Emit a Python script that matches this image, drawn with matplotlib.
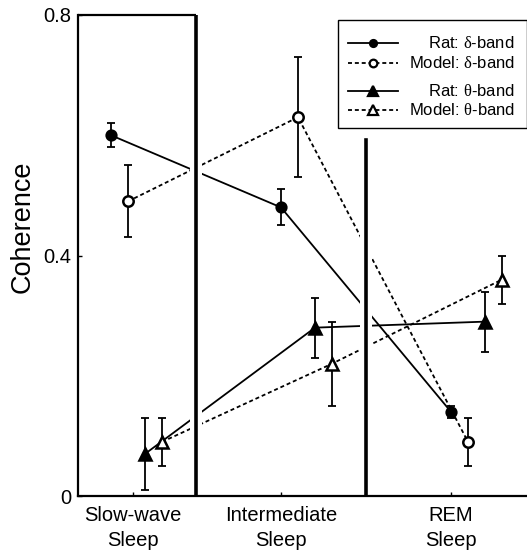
import matplotlib
matplotlib.use("Agg")
import matplotlib.pyplot as plt
from matplotlib.lines import Line2D
from matplotlib.patches import Rectangle

plt.rcParams['font.family'] = ['Liberation Sans', 'DejaVu Sans']
plt.rcParams['mathtext.fontset'] = 'custom'
plt.rcParams['mathtext.rm'] = 'Liberation Serif'

# data
stages = ["Slow-wave\nSleep", "Intermediate\nSleep", "REM\nSleep"]

rat_delta = [0.60, 0.48, 0.14]
rat_delta_err = [0.02, 0.03, 0.01]
model_delta = [0.49, 0.63, 0.09]
model_delta_err = [0.06, 0.10, 0.04]
rat_theta = [0.07, 0.28, 0.29]
rat_theta_err = [0.06, 0.05, 0.05]
model_theta = [0.09, 0.22, 0.36]
model_theta_err = [0.04, 0.07, 0.04]

labels = [r"Rat: $\mathrm{\delta}$-band", r"Model: $\mathrm{\delta}$-band",
          r"Rat: $\mathrm{\theta}$-band", r"Model: $\mathrm{\theta}$-band"]

# layout
group_x = [0, 1, 2]
offsets = [0.0, 0.1, 0.2, 0.3]
tick_pos = [0.13, 1.0, 2.0]
dividers = [0.5, 1.5]

DASH = (2.2, 1.6)
series = [
    (rat_delta, rat_delta_err, "o", "k", "-", 7),
    (model_delta, model_delta_err, "o", "white", "--", 7.5),
    (rat_theta, rat_theta_err, "^", "k", "-", 9),
    (model_theta, model_theta_err, "^", "white", "--", 9),
]

fig = plt.figure(figsize=(5.27, 5.5), dpi=100)
ax = fig.add_axes([78 / 527, 54 / 550, 449 / 527, 481 / 550])

for i, (vals, errs, mk, fc, ls, ms) in enumerate(series):
    xs = [g + offsets[i] for g in group_x]
    kw = dict(dashes=DASH) if ls == "--" else {}
    ax.plot(xs, vals, color="k", lw=1.3, zorder=2, **kw)
    ax.errorbar(xs, vals, yerr=errs, fmt="none", ecolor="k", elinewidth=1.3,
                capsize=3, capthick=1.3, zorder=4)
    ax.plot(xs, vals, ls="none", marker=mk, ms=ms, mfc=fc, mec="k",
            mew=1.8, zorder=5)

# white gaps where the lines cross the stage dividers
ax.axvspan(dividers[0] - 0.035, dividers[0] + 0.035, color="white", zorder=2.3, lw=0)
ax.axvspan(dividers[1] - 0.033, dividers[1] + 0.033, ymax=0.74, color="white",
           zorder=2.3, lw=0)
ax.axvline(dividers[0], color="k", lw=2.6, zorder=3)
ax.axvline(dividers[1], ymax=0.74, color="k", lw=2.6, zorder=3)

ax.set_xlim(-0.194, 2.447)
ax.set_ylim(0, 0.8)
ax.hlines(0.8, -0.194, dividers[0], color="k", lw=1.6, zorder=3, clip_on=False)

ax.spines["top"].set_visible(False)
ax.spines["right"].set_visible(False)
ax.spines["left"].set_linewidth(1.6)
ax.spines["bottom"].set_linewidth(1.6)

ax.set_yticks([0, 0.4, 0.8])
ax.set_yticklabels(["0", "0.4", "0.8"])
ax.set_xticks(tick_pos)
ax.set_xticklabels(stages, linespacing=1.45)
ax.tick_params(direction="in", length=3, width=1, labelsize=14.5)
ax.tick_params(axis="x", pad=7)
ax.tick_params(axis="y", pad=5)
fig.text(22.5 / 527, 1 - 227 / 550, "Coherence", rotation=90, ha="center",
         va="center", fontsize=19.5)

# legend drawn by hand so the labels can be right aligned
ax.add_patch(Rectangle((0.579, 0.765), 0.42, 0.225, transform=ax.transAxes,
                       facecolor="white", edgecolor="k", lw=1, zorder=6,
                       clip_on=False))
rows = [0.942, 0.900, 0.842, 0.802]
for i, (vals, errs, mk, fc, ls, ms) in enumerate(series):
    kw = dict(dashes=DASH) if ls == "--" else {}
    ax.add_line(Line2D([0.601, 0.713], [rows[i], rows[i]], transform=ax.transAxes,
                       color="k", lw=1.3, zorder=7, **kw))
    ax.add_line(Line2D([0.657], [rows[i]], transform=ax.transAxes, ls="none",
                       marker=mk, ms=ms - 2, mfc=fc, mec="k", mew=1.6, zorder=8))
    ax.text(0.973, rows[i], labels[i], transform=ax.transAxes, ha="right",
            va="center", fontsize=12, zorder=8)

fig.savefig("out.png", dpi=100)
